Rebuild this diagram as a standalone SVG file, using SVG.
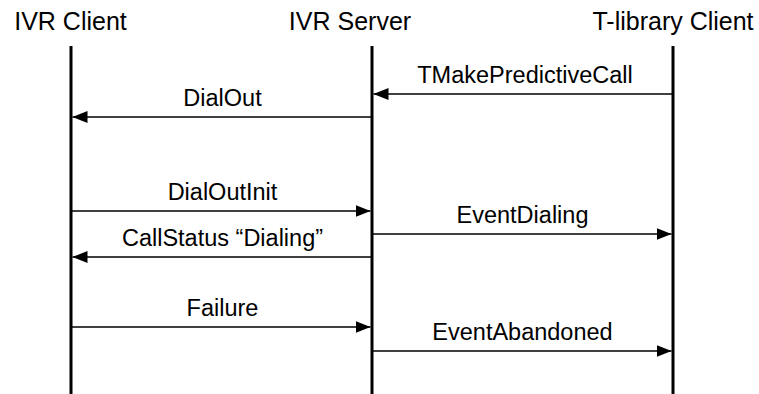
<svg xmlns="http://www.w3.org/2000/svg" width="759" height="394" viewBox="0 0 759 394">
<style>
.hdr{font-family:"Liberation Sans",Arial,sans-serif;font-size:25px;fill:#000}
.lbl{font-family:"Liberation Sans",Arial,sans-serif;font-size:23.5px;fill:#000;text-anchor:middle}
.life{stroke:#000;stroke-width:3;fill:none}
.msg{stroke:#000;stroke-width:1.6;fill:none;marker-end:url(#ah)}
</style>
<defs>
<marker id="ah" viewBox="0 0 15 12" refX="15" refY="6" markerWidth="15" markerHeight="12" markerUnits="userSpaceOnUse" orient="auto">
<path d="M0,0 L15,6 L0,12 Z" fill="#000"/>
</marker>
</defs>
<rect width="759" height="394" fill="#fff"/>
<g id="ivr-client">
<text class="hdr" x="70.5" y="30" text-anchor="middle">IVR Client</text>
<line class="life" x1="71" y1="46" x2="71" y2="394"/>
</g>
<g id="ivr-server">
<text class="hdr" x="350" y="30" text-anchor="middle">IVR Server</text>
<line class="life" x1="372" y1="46" x2="372" y2="394"/>
</g>
<g id="tlib-client">
<text class="hdr" x="673" y="30" text-anchor="middle">T-library Client</text>
<line class="life" x1="673" y1="46" x2="673" y2="394"/>
</g>
<g id="connectors">
<line class="msg" x1="672" y1="94" x2="373.5" y2="94"/>
<text class="lbl" x="525" y="82.5">TMakePredictiveCall</text>
<line class="msg" x1="371" y1="117" x2="72.5" y2="117"/>
<text class="lbl" x="222.5" y="106">DialOut</text>
<line class="msg" x1="72" y1="211" x2="370.5" y2="211"/>
<text class="lbl" x="222.5" y="199.5">DialOutInit</text>
<line class="msg" x1="373" y1="234" x2="671.5" y2="234"/>
<text class="lbl" x="522.5" y="222.5">EventDialing</text>
<line class="msg" x1="371" y1="257" x2="72.5" y2="257"/>
<text class="lbl" x="222.5" y="246">CallStatus “Dialing”</text>
<line class="msg" x1="72" y1="327" x2="370.5" y2="327"/>
<text class="lbl" x="222.5" y="315.5">Failure</text>
<line class="msg" x1="373" y1="351" x2="671.5" y2="351"/>
<text class="lbl" x="522.5" y="339.5">EventAbandoned</text>
</g>
</svg>
